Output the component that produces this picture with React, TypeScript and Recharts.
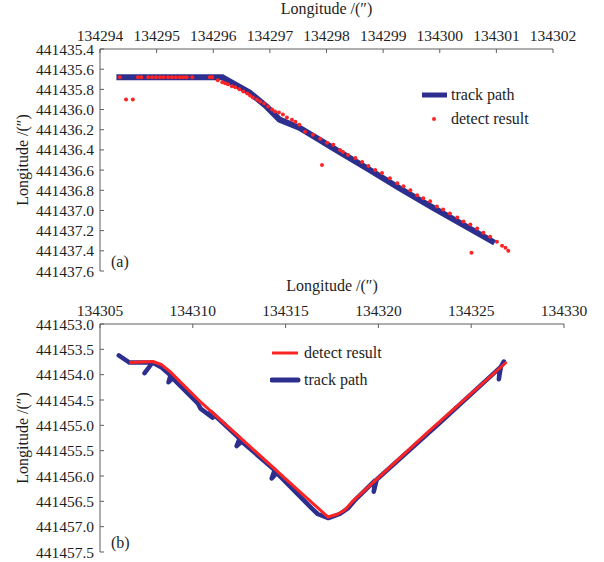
import { ComposedChart, Line, Scatter, XAxis, YAxis } from 'recharts';

// ── Data: panel (a) ──────────────────────────────────────────────────────────
const ticksAX = [134294, 134295, 134296, 134297, 134298, 134299, 134300, 134301, 134302];
const ticksAY = [
  441435.4, 441435.6, 441435.8, 441436.0, 441436.2, 441436.4,
  441436.6, 441436.8, 441437.0, 441437.2, 441437.4, 441437.6,
];

// [longitude, latitude]
const trackA: [number, number][] = [
  [134294.29, 441435.68], [134296.16, 441435.68], [134296.64, 441435.83],
  [134296.94, 441435.97], [134297.17, 441436.1], [134297.52, 441436.18],
  [134297.82, 441436.28], [134298.11, 441436.38], [134298.71, 441436.58],
  [134299.29, 441436.78], [134299.87, 441436.97], [134300.47, 441437.16],
  [134300.97, 441437.32],
];

const detectA: [number, number][] = [
  // flat part
  [134294.35, 441435.68], [134294.67, 441435.68], [134294.73, 441435.68],
  [134294.85, 441435.68], [134294.92, 441435.68], [134294.99, 441435.68],
  [134295.06, 441435.68], [134295.12, 441435.68], [134295.2, 441435.68],
  [134295.27, 441435.68], [134295.34, 441435.68], [134295.41, 441435.68],
  [134295.47, 441435.68], [134295.53, 441435.68], [134295.63, 441435.68],
  [134295.94, 441435.68], [134295.98, 441435.68],
  // outliers
  [134294.46, 441435.9], [134294.58, 441435.9],
  [134297.92, 441436.55], [134300.56, 441437.42],
  // descent
  [134296.08, 441435.71], [134296.16, 441435.73], [134296.21, 441435.74],
  [134296.26, 441435.75], [134296.33, 441435.77], [134296.39, 441435.78],
  [134296.46, 441435.8], [134296.53, 441435.82], [134296.6, 441435.84],
  [134296.65, 441435.86], [134296.7, 441435.88], [134296.77, 441435.9],
  [134296.83, 441435.92], [134296.9, 441435.94], [134296.97, 441435.97],
  [134297.04, 441436.0], [134297.09, 441436.02], [134297.16, 441436.03],
  [134297.23, 441436.05], [134297.3, 441436.08], [134297.39, 441436.1],
  [134297.45, 441436.12], [134297.52, 441436.15], [134297.62, 441436.22],
  [134297.76, 441436.25], [134297.89, 441436.29], [134298.01, 441436.33],
  [134298.12, 441436.35], [134298.24, 441436.4], [134298.29, 441436.42],
  [134298.38, 441436.45], [134298.51, 441436.48], [134298.63, 441436.52],
  [134298.74, 441436.56], [134298.86, 441436.6], [134298.98, 441436.63],
  [134299.12, 441436.68], [134299.25, 441436.73], [134299.36, 441436.76],
  [134299.48, 441436.8], [134299.6, 441436.85], [134299.71, 441436.88],
  [134299.83, 441436.91], [134299.95, 441436.96], [134300.06, 441436.99],
  [134300.18, 441437.03], [134300.31, 441437.07], [134300.42, 441437.11],
  [134300.54, 441437.14], [134300.66, 441437.18], [134300.77, 441437.22],
  [134300.89, 441437.26], [134301.01, 441437.31], [134301.1, 441437.35],
  [134301.16, 441437.37], [134301.21, 441437.4],
];

// ── Data: panel (b) ──────────────────────────────────────────────────────────
const ticksBX = [134305, 134310, 134315, 134320, 134325, 134330];
const ticksBY = [
  441453.0, 441453.5, 441454.0, 441454.5, 441455.0,
  441455.5, 441456.0, 441456.5, 441457.0, 441457.5,
];

const trackB: [number, number][] = [
  [134306.01, 441453.62], [134306.59, 441453.76], [134307.83, 441453.76],
  [134307.4, 441453.97], [134307.83, 441453.76], [134308.32, 441453.86],
  [134308.8, 441454.01], [134308.69, 441454.15], [134308.91, 441454.07],
  [134310.26, 441454.56], [134310.42, 441454.67], [134311.07, 441454.85],
  [134310.96, 441454.73], [134312.52, 441455.26], [134312.36, 441455.41],
  [134312.63, 441455.32], [134314.41, 441455.88], [134314.25, 441456.05],
  [134314.52, 441455.94], [134316.41, 441456.64], [134316.73, 441456.75],
  [134317.3, 441456.83], [134317.92, 441456.75], [134318.35, 441456.64],
  [134318.78, 441456.46], [134319.81, 441456.09], [134319.75, 441456.31],
  [134319.91, 441456.07], [134323.31, 441454.95], [134326.55, 441453.86],
  [134326.49, 441454.09], [134326.6, 441453.84], [134326.76, 441453.74],
];

const detectB: [number, number][] = [
  [134306.59, 441453.76], [134307.85, 441453.74], [134308.3, 441453.8],
  [134308.75, 441453.93], [134310.37, 441454.52], [134313.06, 441455.41],
  [134315.76, 441456.31], [134317.29, 441456.81], [134317.83, 441456.75],
  [134318.19, 441456.67], [134318.64, 441456.49], [134322.77, 441455.1],
  [134326.91, 441453.75],
];

// ── Style ────────────────────────────────────────────────────────────────────
const FONT = '"Liberation Serif", "Times New Roman", serif';
const AXIS = '#5f5f5f';
const TEXT = '#1e1e1e';
const BLUE = '#2c2f8e';
const RED = '#ff2424';
const TITLE = 'Longitude /(\u2033)';

const toPts = (a: [number, number][]) => a.map(([x, y]) => ({ x, y }));
const tickStyle = { fill: TEXT, fontSize: 15.5, fontFamily: FONT };
const titleStyle = { fill: TEXT, fontSize: 16, fontFamily: FONT };

function Panel(props: {
  top: number;
  height: number;
  xHeight: number;
  xTickMargin: number;
  marginRight: number;
  marginBottom: number;
  xDomain: [number, number];
  yDomain: [number, number];
  xTicks: number[];
  yTicks: number[];
  children: React.ReactNode;
}) {
  return (
    <div style={{ position: 'absolute', left: 0, top: props.top }}>
      <ComposedChart
        width={604}
        height={props.height}
        margin={{ top: 0, right: props.marginRight, bottom: props.marginBottom, left: 0 }}
      >
        <XAxis
          type="number"
          dataKey="x"
          orientation="top"
          height={props.xHeight}
          domain={props.xDomain}
          ticks={props.xTicks}
          interval={0}
          allowDataOverflow
          tick={tickStyle}
          tickSize={-4}
          tickMargin={props.xTickMargin}
          stroke={AXIS}
          label={{ value: TITLE, position: 'insideTop', offset: 3, style: titleStyle }}
        />
        <YAxis
          type="number"
          dataKey="y"
          width={100}
          reversed
          domain={props.yDomain}
          ticks={props.yTicks}
          interval={0}
          allowDataOverflow
          tickFormatter={(v: number) => v.toFixed(1)}
          tick={tickStyle}
          tickSize={-4}
          tickMargin={10}
          stroke={AXIS}
          label={{
            value: TITLE,
            angle: -90,
            position: 'insideLeft',
            offset: 22,
            style: { ...titleStyle, textAnchor: 'middle' },
          }}
        />
        {props.children}
      </ComposedChart>
    </div>
  );
}

const legendText: React.CSSProperties = {
  position: 'absolute',
  fontFamily: FONT,
  fontSize: 16,
  color: TEXT,
  whiteSpace: 'nowrap',
  lineHeight: '16px',
};

export default function App() {
  return (
    <div style={{ position: 'absolute', left: 0, top: 0, width: 604, height: 562, background: '#fff' }}>
      <Panel
        top={0}
        height={285}
        xHeight={49}
        xTickMargin={12}
        marginRight={51}
        marginBottom={14}
        xDomain={[134294, 134302]}
        yDomain={[441435.4, 441437.6]}
        xTicks={ticksAX}
        yTicks={ticksAY}
      >
        <Line
          data={toPts(trackA)}
          dataKey="y"
          type="linear"
          stroke={BLUE}
          strokeWidth={6}
          dot={false}
          isAnimationActive={false}
        />
        <Scatter
          data={toPts(detectA)}
          dataKey="y"
          fill={RED}
          shape={(p: { cx?: number; cy?: number }) => (
            <circle cx={p.cx} cy={p.cy} r={2} fill={RED} />
          )}
          isAnimationActive={false}
        />
      </Panel>

      <Panel
        top={277}
        height={285}
        xHeight={47}
        xTickMargin={12}
        marginRight={40}
        marginBottom={10}
        xDomain={[134305, 134330]}
        yDomain={[441453, 441457.5]}
        xTicks={ticksBX}
        yTicks={ticksBY}
      >
        <Line
          data={toPts(trackB)}
          dataKey="y"
          type="linear"
          stroke={BLUE}
          strokeWidth={4.5}
          strokeLinejoin="round"
          strokeLinecap="round"
          dot={false}
          isAnimationActive={false}
        />
        <Line
          data={toPts(detectB)}
          dataKey="y"
          type="linear"
          stroke={RED}
          strokeWidth={3}
          strokeLinejoin="round"
          dot={false}
          isAnimationActive={false}
        />
      </Panel>

      {/* legend (a) */}
      <svg style={{ position: 'absolute', left: 420, top: 88 }} width={30} height={40}>
        <line x1={2} y1={7} x2={27} y2={7} stroke={BLUE} strokeWidth={5} />
        <circle cx={14} cy={31} r={2} fill={RED} />
      </svg>
      <span style={{ ...legendText, left: 451, top: 87 }}>track path</span>
      <span style={{ ...legendText, left: 451, top: 111 }}>detect result</span>

      {/* legend (b) */}
      <svg style={{ position: 'absolute', left: 270, top: 346 }} width={32} height={40}>
        <line x1={2} y1={7} x2={28} y2={7} stroke={RED} strokeWidth={3} />
        <line x1={2} y1={34} x2={28} y2={34} stroke={BLUE} strokeWidth={5} strokeLinecap="round" />
      </svg>
      <span style={{ ...legendText, left: 304, top: 345 }}>detect result</span>
      <span style={{ ...legendText, left: 304, top: 372 }}>track path</span>

      <span style={{ ...legendText, left: 111, top: 254 }}>(a)</span>
      <span style={{ ...legendText, left: 111, top: 535 }}>(b)</span>
    </div>
  );
}
